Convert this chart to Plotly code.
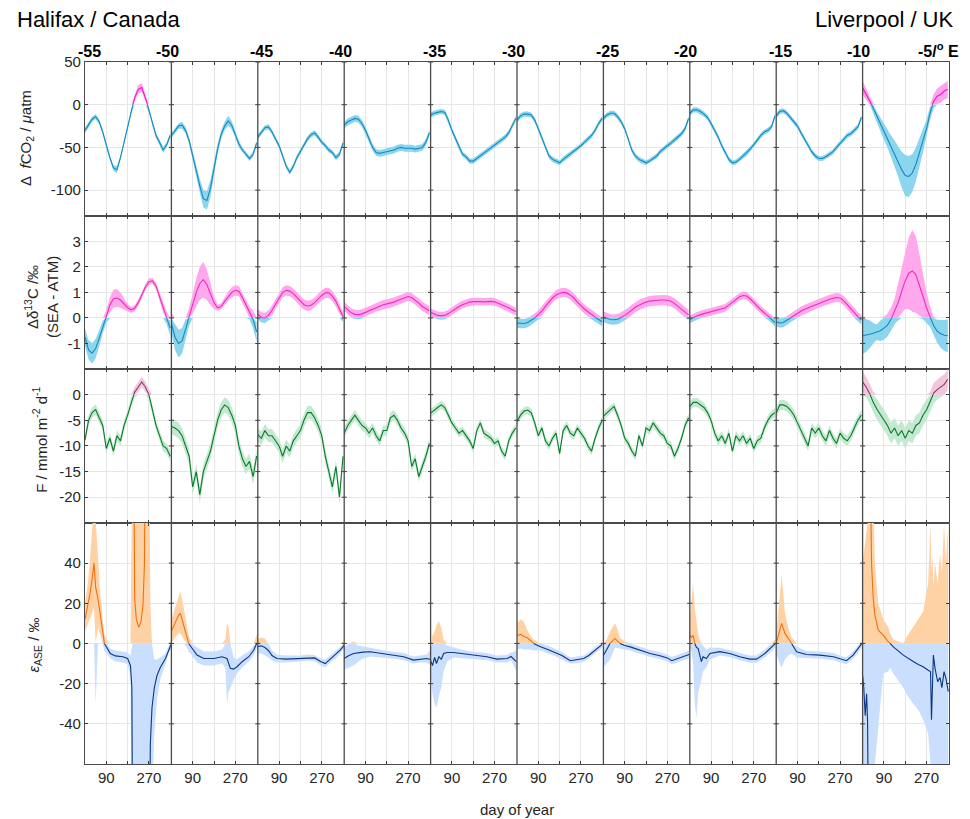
import plotly.graph_objects as go
from plotly.subplots import make_subplots

# ---------------- data ----------------
LON_LABELS = ["-55", "-50", "-45", "-40", "-35", "-30", "-25", "-20", "-15", "-10", "-5/<sup>o</sup> E"]
DAY_TICKS = [90, 180, 270]
DAY_TICK_TEXT = ["90", "", "270"]
DAYS = [0, 15, 30, 45, 60, 75, 90, 105, 120, 135, 150, 165, 180, 195, 210, 225, 240, 255, 270, 285, 300, 315, 330, 345, 360]

# Row 1: delta fCO2 (uatm), one list per longitude band
FCO2 = [
    [-30, -24, -17, -14, -20, -32, -48, -62, -74, -76, -62, -44, -26, -8, 8, 18, 20, 8, -6, -22, -36, -44, -53, -47, -36],
    [-36, -30, -25, -24, -30, -42, -60, -78, -95, -110, -112, -98, -75, -52, -35, -25, -19, -24, -35, -46, -53, -58, -63, -58, -45],
    [-38, -32, -27, -26, -32, -40, -48, -60, -72, -79, -72, -62, -55, -47, -40, -35, -33, -38, -44, -48, -53, -56, -62, -58, -45],
    [-24, -20, -18, -16, -17, -22, -30, -40, -50, -56, -57, -56, -55, -54, -53, -51, -50, -51, -51, -51, -52, -51, -50, -44, -33],
    [-12, -10, -9, -8, -9, -18, -30, -40, -50, -58, -61, -66, -66, -63, -60, -56, -53, -50, -48, -44, -41, -38, -33, -25, -16],
    [-18, -13, -11, -11, -12, -18, -28, -38, -50, -60, -64, -66, -68, -64, -61, -58, -54, -51, -48, -44, -40, -36, -30, -22, -16],
    [-16, -12, -10, -10, -14, -20, -28, -40, -53, -60, -64, -66, -68, -66, -63, -60, -55, -51, -48, -45, -41, -38, -34, -28, -16],
    [-10, -6, -6, -8, -11, -15, -22, -30, -38, -48, -56, -64, -68, -67, -64, -60, -57, -52, -47, -41, -36, -32, -30, -26, -13],
    [-13, -8, -7, -10, -15, -20, -25, -33, -40, -48, -55, -60, -63, -63, -61, -58, -55, -50, -45, -40, -36, -34, -30, -26, -15],
    [20, 12, 5, -4, -14, -23, -32, -40, -48, -57, -66, -76, -83, -84, -80, -70, -56, -42, -28, -10, 4, 10, 12, 16, 18],
]
FCO2_ERR = [
    [3, 3, 3, 3, 3, 3, 3, 3, 3.5, 4, 3, 3, 3, 3, 4, 5, 5, 4, 3, 3, 3, 3, 3.5, 3, 3],
    [3, 3, 3, 4, 4, 4, 5, 6, 8, 10, 11, 10, 8, 6, 5, 5, 6, 5, 4, 4, 3, 3, 3, 3, 3],
    3, 4, 3, 3, 3, 3, 3,
    [8, 6, 5, 5, 6, 8, 9, 10, 12, 15, 18, 21, 24, 24, 22, 20, 17, 14, 10, 8, 8, 9, 10, 10, 10],
]

# Row 2: delta d13C (permil, SEA - ATM)
D13C = [
    [-0.75, -1.25, -1.38, -1.2, -0.8, -0.35, 0.05, 0.5, 0.75, 0.78, 0.7, 0.55, 0.4, 0.32, 0.38, 0.6, 0.9, 1.2, 1.42, 1.45, 1.25, 0.85, 0.4, 0.0, -0.4],
    [-0.2, -0.75, -1.0, -0.9, -0.45, 0.05, 0.55, 1.0, 1.35, 1.5, 1.3, 0.95, 0.6, 0.4, 0.45, 0.65, 0.85, 1.0, 1.08, 1.05, 0.8, 0.5, 0.2, -0.05, -0.55],
    [0.15, 0.02, 0.0, 0.1, 0.3, 0.55, 0.8, 1.0, 1.08, 1.05, 0.95, 0.8, 0.65, 0.52, 0.47, 0.5, 0.6, 0.75, 0.88, 0.98, 0.98, 0.85, 0.65, 0.35, 0.05],
    [0.45, 0.32, 0.2, 0.14, 0.13, 0.16, 0.22, 0.3, 0.37, 0.43, 0.48, 0.52, 0.55, 0.58, 0.62, 0.68, 0.74, 0.8, 0.84, 0.8, 0.7, 0.58, 0.45, 0.35, 0.28],
    [0.22, 0.15, 0.1, 0.08, 0.1, 0.17, 0.27, 0.36, 0.45, 0.52, 0.58, 0.62, 0.64, 0.65, 0.64, 0.63, 0.64, 0.65, 0.63, 0.58, 0.52, 0.46, 0.4, 0.32, 0.25],
    [-0.2, -0.22, -0.22, -0.18, -0.1, 0.0, 0.12, 0.27, 0.45, 0.62, 0.78, 0.9, 0.97, 1.0, 0.98, 0.9, 0.78, 0.62, 0.47, 0.35, 0.24, 0.13, 0.03, -0.07, -0.15],
    [0.05, -0.02, -0.06, -0.07, -0.05, 0.02, 0.1, 0.2, 0.32, 0.42, 0.5, 0.57, 0.62, 0.66, 0.68, 0.69, 0.7, 0.7, 0.69, 0.65, 0.57, 0.45, 0.33, 0.22, 0.12],
    [-0.06, 0.02, 0.08, 0.13, 0.17, 0.21, 0.25, 0.28, 0.31, 0.35, 0.4, 0.5, 0.62, 0.74, 0.83, 0.88, 0.86, 0.75, 0.6, 0.45, 0.32, 0.2, 0.08, -0.05, -0.18],
    [-0.15, -0.2, -0.18, -0.1, 0.0, 0.1, 0.2, 0.27, 0.34, 0.4, 0.46, 0.52, 0.58, 0.64, 0.69, 0.73, 0.77, 0.8, 0.78, 0.68, 0.52, 0.35, 0.2, 0.05, -0.08],
    [-0.7, -0.68, -0.64, -0.6, -0.56, -0.5, -0.4, -0.28, -0.05, 0.25, 0.6, 1.05, 1.45, 1.75, 1.84, 1.7, 1.3, 0.85, 0.4, 0.05, -0.3, -0.52, -0.62, -0.68, -0.7],
]
D13C_ERR = [
    [0.35, 0.38, 0.4, 0.38, 0.32, 0.25, 0.25, 0.3, 0.35, 0.35, 0.3, 0.22, 0.15, 0.12, 0.12, 0.12, 0.12, 0.12, 0.12, 0.12, 0.12, 0.15, 0.2, 0.25, 0.3],
    [0.4, 0.5, 0.55, 0.5, 0.4, 0.35, 0.4, 0.55, 0.65, 0.7, 0.6, 0.45, 0.25, 0.12, 0.12, 0.15, 0.18, 0.2, 0.2, 0.2, 0.2, 0.2, 0.25, 0.35, 0.4],
    0.2, 0.18, 0.15, 0.18, 0.2, 0.15, 0.18,
    [0.7, 0.65, 0.55, 0.4, 0.3, 0.4, 0.45, 0.45, 0.45, 0.5, 0.7, 0.9, 1.1, 1.4, 1.6, 1.5, 1.2, 0.9, 0.6, 0.4, 0.35, 0.45, 0.55, 0.6, 0.65],
]

# Row 3: air-sea flux F (mmol m-2 d-1)
FLUX = [
    [-8.8, -5, -3.5, -2.9, -4.5, -6, -10.5, -8.5, -11, -8, -9, -6, -4, -1.5, 0.5, 1.5, 2.5, 1.5, 0, -3, -6, -8, -10, -10.5, -12],
    [-6.2, -6.5, -7, -8, -10, -12, -18, -15, -19.5, -15, -13, -11, -8, -5, -3, -2, -2.5, -4, -6, -10, -12.5, -14, -13, -16, -12],
    [-7.8, -8.5, -7, -8, -8, -9, -10, -12, -10, -11, -9, -8, -7, -5, -3.5, -3.5, -4.5, -6, -8, -12, -15, -18, -14, -20, -12],
    [-7.5, -6, -5, -4, -5, -6, -6.5, -7.5, -6.5, -8, -9, -7, -7, -4.5, -4, -5, -6.5, -7.5, -9, -14, -12.5, -16, -14, -12, -9.5],
    [-3.6, -3, -2.5, -2, -2.5, -4, -5.5, -6.5, -7.5, -7, -8, -9, -10.5, -7, -5.5, -7.5, -8, -8.5, -9.5, -9, -11, -12, -9, -7.5, -6.5],
    [-5.2, -4, -3.2, -3, -3.5, -5.5, -8, -6.5, -9, -10, -8.5, -7.5, -11.5, -7, -6, -7.5, -8, -6.5, -7.5, -8.5, -10, -11, -8.5, -6.5, -5],
    [-4.2, -3.5, -2.8, -2.3, -4, -6, -8.5, -9.5, -11, -12, -8, -10, -6.5, -7, -5.5, -6.5, -7.5, -8, -9.5, -10, -12, -10.5, -8.5, -6, -4.5],
    [-2.3, -1.5, -1.5, -2, -2.5, -3.5, -5, -7.5, -9, -8, -9.5, -7.5, -11, -8, -9, -8, -9.5, -8.5, -10.5, -9, -8.5, -6.5, -5, -4, -3.5],
    [-3.6, -2, -2, -2.3, -3, -4, -5.5, -7, -8.5, -10, -6.5, -7.5, -6.5, -8, -9, -7, -8.5, -9.5, -7.5, -8.5, -9, -8, -6.5, -5, -4],
    [2.5, 1.5, 0.2, -1.5, -2.8, -3.8, -5, -6, -7.5, -6.5, -8, -7, -8.5, -7, -7.5, -6, -5.5, -4, -3, -1.5, 0.3, 1, 1.5, 2, 3],
]
FLUX_ERR = [1.0, 1.5, 1.3, 1.0, 0.8, 0.8, 0.8, 0.9, 1.0, 2.0]

# Row 4: epsilon_ASE (permil), irregular day sampling per column; None = line break
EPS_DAY = [
    [0, 10, 20, 30, 38, 45, 55, 65, 75, 82, 93, 107, 128, 160, 180, 192, 198, 201, 203, 206, 210, 217, 227, 237, 245, 251, 255, 263, 272, 276, 283, 293, 304, 318, 340, 354, 365],
    [0, 15, 30, 38, 52, 66, 73, 87, 108, 137, 179, 214, 228, 235, 242, 249, 263, 277, 299, 327, 348, 362],
    [0, 15, 30, 45, 60, 80, 120, 180, 210, 240, 265, 285, 306, 330, 348, 365],
    [0, 20, 40, 60, 80, 110, 150, 180, 220, 251, 293, 321, 349, 365],
    [0, 8, 17, 25, 35, 45, 55, 70, 97, 130, 168, 200, 238, 280, 323, 340, 355, 362],
    [0, 15, 28, 42, 56, 70, 99, 130, 155, 190, 225, 255, 282, 303, 324, 345, 360],
    [0, 14, 28, 42, 49, 60, 70, 90, 113, 155, 197, 239, 270, 289, 310, 324, 352, 362],
    [0, 7, 14, 21, 28, 35, 42, 49, 56, 70, 85, 127, 169, 211, 254, 282, 317, 340, 362],
    [0, 8, 15, 23, 30, 37, 51, 65, 86, 128, 185, 242, 285, 297, 325, 353, 362],
    [0, 5, 11, 17, 21, 25, 28, 31, 38, 45, 52, 66, 87, 109, 116, 130, 172, 190, 214, 235, 256, 277, 287, 291, 295, 299, 306, 317, 327, 335, 344, 352, 362],
]
EPS_VAL = [
    [12, 18, 24, 32, 40, 28, 22, 14, 6, 0, -2, -5, -6.2, -6.6, -7.5, -11, -22, -100, None, 100, 22, 12, 8, 11, 19, 39, 100, None, -100, -50, -32, -22, -16, -12, -7.5, -3.3, 0],
    [6, 10, 14, 15, 9, 2.5, 0, -2.5, -5.8, -7.5, -7.5, -6.6, -7, -7.5, -10, -12.4, -12.8, -11.6, -9.1, -6.6, -3.3, 0.5],
    [-1.5, -1.2, -2, -3.5, -6, -7.5, -7.8, -7.5, -7, -7.2, -9, -10, -7.8, -5.5, -3.3, -0.8],
    [-7.5, -6, -5, -4.6, -4.3, -4.1, -4.8, -5.5, -6, -6.6, -8.3, -7.8, -7.5, -8],
    [-8.5, -11, -7, -10, -6.5, -8, -5, -4.5, -4.5, -5, -5.8, -6.2, -6.6, -7.8, -7.5, -6.5, -8.5, -9],
    [4, 4.5, 3.5, 3, 1.6, 0, -1.7, -3, -4.1, -6, -8.6, -8.2, -7.5, -6, -4.1, -2, -0.5],
    [-6, -3, 0, 1.6, 2.5, 1.2, 0, -1, -1.7, -3.3, -5, -6.1, -7.2, -8.6, -7.8, -7.1, -6.1, -5.5],
    [4, 3, 4, 0, -2, -2.5, -5.8, -9, -6.6, -7.5, -5, -4.1, -5, -6.6, -7.8, -7.8, -5, -2.5, 0],
    [0, 3.3, 6.6, 10, 7.5, 5, 2.5, 0, -4.1, -5.5, -5.8, -6.6, -8.3, -8.6, -5.8, -1.7, 0],
    [-15.8, -22, -36, -25, -39, -100, None, 100, 39, 22.4, 14, 6.6, 4.1, 0.8, 0, -1.7, -5.8, -7, -9, -10.5, -11.6, -13.3, -14, -38, -20, -5.8, -12.4, -19, -17, -22, -14, -17.4, -24],
]
EPS_LO = [
    [6, 8, 12, 15, 18, -30, 8, 4, 0, -4, -5, -7.5, -9, -9.5, -10.5, -16, -100, -100, -100, -100, -100, -100, -100, -100, -100, -100, -100, -100, -100, -100, -80, -45, -28, -18, -10, -5, -2],
    [0, 3, 5, 5, 2, -2, -4, -6, -9.5, -11, -11, -10, -12, -30, -24, -22, -18, -15, -12, -9, -6, -2],
    [-5, -5, -6, -7, -8.5, -9.5, -9.5, -9, -8.5, -8.8, -11, -12, -9.5, -7.5, -5, -2.5],
    [-13, -12, -11, -9, -7.5, -6.5, -6.8, -7.3, -7.8, -8.4, -10, -9.5, -9.5, -11],
    [-15, -25, -30, -32, -26, -22, -14, -9, -7, -7, -7.6, -8, -8.4, -9.5, -9.3, -8.5, -12, -14],
    [-3, -2.5, -3, -3, -3, -3.5, -3.5, -5, -6, -7.8, -10, -9.8, -9, -7.5, -5.6, -3.5, -2],
    [-12, -10, -8, -4, -2, -2, -2.5, -3, -3.5, -5, -6.8, -7.8, -9, -10.3, -9.6, -9, -8, -7.5],
    [-2, -4, -10, -30, -37, -25, -22, -18, -14, -12, -8, -6, -6.8, -8.4, -9.6, -9.6, -7, -4.5, -2],
    [-5, -8, -10, -12, -10, -8, -6, -5, -7, -7.3, -7.6, -8.4, -10, -10.3, -7.6, -3.5, -2],
    [-100, -100, -100, -100, -100, -100, -100, -100, -100, -80, -60, -40, -15, -14, -12, -15, -22, -26, -30, -33, -38, -45, -60, -70, -65, -60, -70, -65, -80, -70, -75, -80, -70],
]
EPS_HI = [
    [20, 28, 40, 60, 70, 62, 40, 24, 12, 5, 1, -2.5, -3.5, -4, -4.5, -6, 100, 100, 100, 100, 100, 100, 100, 100, 100, 100, 100, 100, 100, 20, 0, -8, -8, -7, -5, -1, 2],
    [12, 18, 24, 26, 18, 8, 4, 0, -2, -4, -4, -3, 2, 10, 8, 0, -7, -8, -6, -4, -1, 5],
    [2, 3, 2.5, 0, -3.5, -5.5, -6, -6, -5.5, -5.8, -7.5, -8, -6, -3.5, -1.5, 1],
    [-2, 0, 1, -1, -1.5, -2, -3, -3.8, -4.3, -4.8, -6.5, -6, -5.5, -3],
    [-2, 4, 6, 9, 11, 8, 2, -1, -2, -3, -4, -4.5, -4.8, -6, -5.7, -4.5, -4, -3],
    [10, 12, 11, 7, 4, 2, 0, -1, -2.3, -4.2, -7, -6.6, -6, -4.5, -2.6, -0.5, 1],
    [0, 2, 6, 9, 10, 7, 3, 1, 0, -1.6, -3.2, -4.4, -5.5, -6.8, -6, -5.2, -4, -3.5],
    [12, 20, 30, 18, 10, 5, 2, 0, -1, -3, -2, -2.2, -3.2, -4.8, -6, -6, -3, -0.5, 2],
    [5, 15, 25, 34, 25, 15, 8, 3, -1.5, -3.7, -4, -4.8, -6.6, -6.9, -4, 0, 2],
    [40, 45, 50, 55, 60, 100, 100, 100, 100, 70, 40, 20, 12, 8, 5, 2, 0, 4, 8, 12, 16, 30, 60, 35, 45, 28, 40, 30, 45, 35, 60, 40, 60],
]

# ---------------- styling ----------------
FONT = "Liberation Sans, Arial, Helvetica, sans-serif"
YEAR = 365
NCOL = 10
ROW_RANGES = [[-130, 50], [-2, 4], [-25, 5], [-60, 60]]
ROW_TICKS = [[-100, -50, 0, 50], [-1, 0, 1, 2, 3], [-20, -15, -10, -5, 0], [-40, -20, 0, 20, 40]]
ROW_COLORS = [  # (pos line, pos band, neg line, neg band)
    ("#f219c4", "#ffa3ec", "#1689b8", "#8bd5ef"),
    ("#f02cb9", "#ffa8ec", "#1689b8", "#8bd5ef"),
    ("#8c3a6c", "#f2c7de", "#0a7a2a", "#c4e9d0"),
    ("#f26f12", "#ffd2a6", "#0c3680", "#c9dffd"),
]


def expand_err(err, n):
    return err if isinstance(err, list) else [err] * n


def split_by_sign(xs, ys):
    px, py, nx, ny = [], [], [], []
    prev = None
    for x, y in zip(xs, ys):
        if y is None:
            prev = None
            px.append(None); py.append(None); nx.append(None); ny.append(None)
            continue
        if prev is None:
            if y >= 0:
                px.append(x); py.append(y)
            else:
                nx.append(x); ny.append(y)
        else:
            x0, y0 = prev
            s0, s1 = y0 >= 0, y >= 0
            if s0 == s1:
                if s1:
                    px.append(x); py.append(y)
                else:
                    nx.append(x); ny.append(y)
            else:
                xc = x0 + (0 - y0) * (x - x0) / (y - y0)
                if s0:
                    px += [xc, None]; py += [0, None]
                    nx += [xc, x]; ny += [0, y]
                else:
                    nx += [xc, None]; ny += [0, None]
                    px += [xc, x]; py += [0, y]
        prev = (x, y)
    return px, py, nx, ny


def band_polys(X, lo, hi, positive):
    if positive:
        up = [max(h, 0) for h in hi]
        dn = [max(l, 0) for l in lo]
    else:
        up = [min(h, 0) for h in hi]
        dn = [min(l, 0) for l in lo]
    n = len(X)
    nz = [abs(u - d_) > 1e-9 for u, d_ in zip(up, dn)]
    keep = [nz[i] or (i > 0 and nz[i - 1]) or (i < n - 1 and nz[i + 1]) for i in range(n)]
    xs, ys = [], []
    i = 0
    while i < n:
        if keep[i]:
            j = i
            while j < n and keep[j]:
                j += 1
            sx = X[i:j]
            xs += sx + sx[::-1] + [None]
            ys += up[i:j] + dn[i:j][::-1] + [None]
            i = j
        else:
            i += 1
    return xs, ys


def add_row(fig, row, days_cols, val_cols, lo_cols, hi_cols, colors):
    pl, pb, nl, nb = colors
    bxp, byp, bxn, byn, lx, ly = [], [], [], [], [], []
    for c in range(NCOL):
        X = [c * YEAR + d for d in days_cols[c]]
        xs, ys = band_polys(X, lo_cols[c], hi_cols[c], True)
        bxp += xs; byp += ys
        xs, ys = band_polys(X, lo_cols[c], hi_cols[c], False)
        bxn += xs; byn += ys
        lx += X + [None]
        ly += list(val_cols[c]) + [None]
    fig.add_trace(go.Scatter(x=bxn, y=byn, fill="toself", fillcolor=nb, mode="lines",
                             line=dict(width=0, color=nb), hoverinfo="skip", showlegend=False), row=row, col=1)
    fig.add_trace(go.Scatter(x=bxp, y=byp, fill="toself", fillcolor=pb, mode="lines",
                             line=dict(width=0, color=pb), hoverinfo="skip", showlegend=False), row=row, col=1)
    px, py, nx, ny = split_by_sign(lx, ly)
    fig.add_trace(go.Scatter(x=nx, y=ny, mode="lines", line=dict(color=nl, width=1.1),
                             hoverinfo="skip", showlegend=False), row=row, col=1)
    fig.add_trace(go.Scatter(x=px, y=py, mode="lines", line=dict(color=pl, width=1.1),
                             hoverinfo="skip", showlegend=False), row=row, col=1)


def sym_rows(vals, errs):
    days, lo, hi = [], [], []
    for c in range(NCOL):
        e = expand_err(errs[c], len(vals[c]))
        days.append(DAYS)
        lo.append([v - s for v, s in zip(vals[c], e)])
        hi.append([v + s for v, s in zip(vals[c], e)])
    return days, lo, hi


fig = make_subplots(rows=4, cols=1, shared_xaxes=True, vertical_spacing=0,
                    row_heights=[153.5, 153, 153.6, 240.7])

d, lo, hi = sym_rows(FCO2, FCO2_ERR)
add_row(fig, 1, d, FCO2, lo, hi, ROW_COLORS[0])
d, lo, hi = sym_rows(D13C, D13C_ERR)
add_row(fig, 2, d, D13C, lo, hi, ROW_COLORS[1])
d, lo, hi = sym_rows(FLUX, FLUX_ERR)
add_row(fig, 3, d, FLUX, lo, hi, ROW_COLORS[2])
add_row(fig, 4, EPS_DAY, EPS_VAL, EPS_LO, EPS_HI, ROW_COLORS[3])

# tick marks on the inner column separators
for r in range(4):
    tx, ty = [], []
    for c in range(1, NCOL):
        for v in ROW_TICKS[r]:
            tx += [c * YEAR - 11, c * YEAR + 11, None]
            ty += [v, v, None]
    fig.add_trace(go.Scatter(x=tx, y=ty, mode="lines", line=dict(color="#3c3c3c", width=1),
                             hoverinfo="skip", showlegend=False), row=r + 1, col=1)

xtv = [c * YEAR + t for c in range(NCOL) for t in DAY_TICKS]
xtt = DAY_TICK_TEXT * NCOL
for r in range(1, 5):
    fig.update_xaxes(row=r, col=1, range=[0, NCOL * YEAR], tickvals=xtv, ticktext=xtt,
                     showgrid=True, gridcolor="#e6e6e6", gridwidth=1, zeroline=False,
                     showline=True, linecolor="#4a4a4a", linewidth=1.2, mirror="ticks",
                     ticks="inside", ticklen=3, tickcolor="#3c3c3c",
                     showticklabels=(r == 4), tickfont=dict(family=FONT, size=15, color="#262626"))
    fig.update_yaxes(row=r, col=1, range=ROW_RANGES[r - 1], tickvals=ROW_TICKS[r - 1],
                     ticktext=[str(v) for v in ROW_TICKS[r - 1]],
                     showgrid=True, gridcolor="#e6e6e6", gridwidth=1, zeroline=False,
                     showline=True, linecolor="#4a4a4a", linewidth=1.2, mirror="ticks",
                     ticks="inside", ticklen=3, tickcolor="#3c3c3c",
                     tickfont=dict(family=FONT, size=15, color="#262626"))

shapes = []
for c in range(1, NCOL):
    shapes.append(dict(type="line", xref="x", yref="paper", x0=c * YEAR, x1=c * YEAR, y0=0, y1=1,
                       line=dict(color="#4a4a4a", width=1.3)))

ann = []
for c, lab in enumerate(LON_LABELS):
    if c == NCOL:
        ann.append(dict(x=c * YEAR, y=1, xref="x", yref="paper", text="<b>" + lab + "</b>", showarrow=False,
                        xanchor="right", yanchor="bottom", xshift=12, yshift=0,
                        font=dict(family=FONT, size=16, color="black")))
    else:
        ann.append(dict(x=c * YEAR, y=1, xref="x", yref="paper", text="<b>" + lab + "</b>", showarrow=False,
                        xanchor="center", yanchor="bottom", xshift=(4 if c % 2 == 0 else -4), yshift=0,
                        font=dict(family=FONT, size=16, color="black")))

ann.append(dict(x=-0.081, y=1.06, xref="paper", yref="paper", text="Halifax / Canada", showarrow=False,
                xanchor="left", yanchor="middle", font=dict(family=FONT, size=22, color="black")))
ann.append(dict(x=1.008, y=1.06, xref="paper", yref="paper", text="Liverpool / UK", showarrow=False,
                xanchor="right", yanchor="middle", font=dict(family=FONT, size=22, color="black")))

ytitles = [
    ("Δ  <i>f</i>CO<sub>2</sub> / <i>μ</i>atm", -0.067, 0.892),
    ("Δδ<sup>13</sup>C /‰<br>(SEA - ATM)", -0.051, 0.665),
    ("F / mmol m<sup>-2</sup> d<sup>-1</sup>", -0.052, 0.462),
    ("<i>ε</i><sub>ASE</sub> / ‰", -0.058, 0.17),
]
for txt, xx, yy in ytitles:
    ann.append(dict(x=xx, y=yy, xref="paper", yref="paper", text=txt, showarrow=False, textangle=-90,
                    xanchor="center", yanchor="middle", font=dict(family=FONT, size=15, color="#262626")))

ann.append(dict(x=0.5, y=-0.0655, xref="paper", yref="paper", text="day of year", showarrow=False,
                xanchor="center", yanchor="middle", font=dict(family=FONT, size=15, color="#262626")))

# the page body adds an 8 px margin, so the figure is sized/margined to land on the reference frame
fig.update_layout(width=954, height=811, margin=dict(l=77, r=13, t=54, b=55),
                  plot_bgcolor="white", paper_bgcolor="white", shapes=shapes, annotations=ann,
                  showlegend=False, font=dict(family=FONT))

fig.write_html("out.html")
